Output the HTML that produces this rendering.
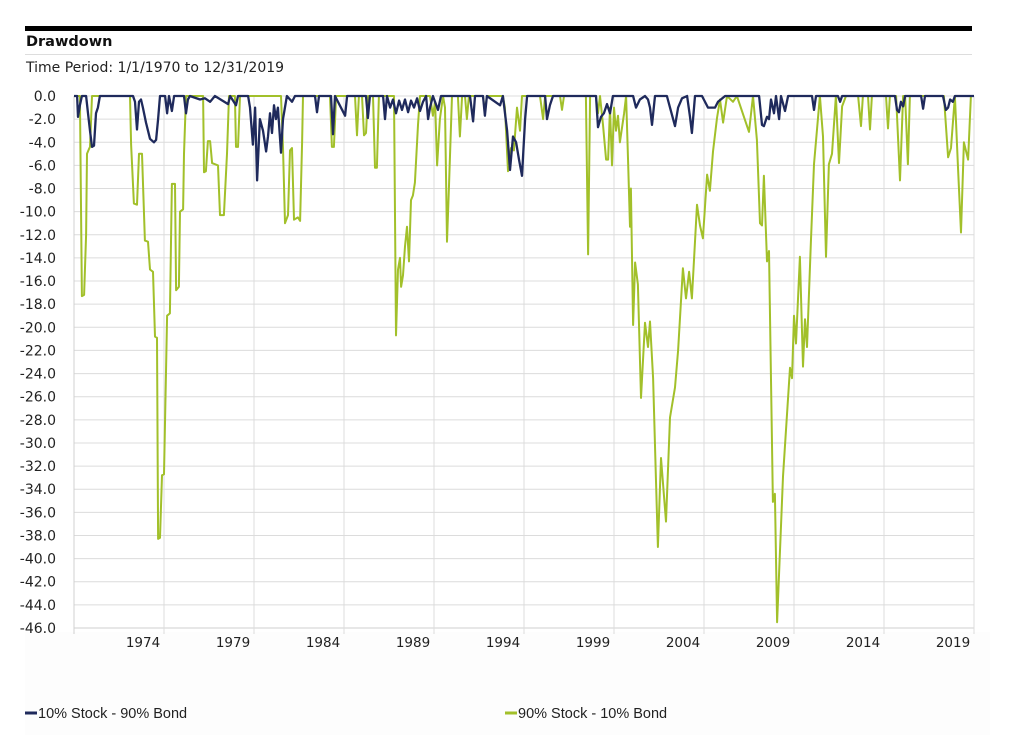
<!DOCTYPE html>
<html><head><meta charset="utf-8">
<style>
body{margin:0;background:#fff;font-family:"DejaVu Sans","Liberation Sans",sans-serif;}
#wrap{position:relative;width:1026px;height:740px;overflow:hidden;background:#fff;}
</style></head>
<body>
<div id="wrap">
<svg id="chart" width="1026" height="740" xmlns="http://www.w3.org/2000/svg">
  <rect x="25" y="632" width="965" height="103" fill="#fdfdfd"/>
  <rect x="25" y="26" width="947" height="5" fill="#000"/>
  <text x="26" y="46" font-size="14.5" font-weight="bold" fill="#111" font-family="DejaVu Sans, sans-serif">Drawdown</text>
  <line x1="25" y1="54.5" x2="972" y2="54.5" stroke="#ddd"/>
  <text x="26" y="72" font-size="14" fill="#222" font-family="DejaVu Sans, sans-serif">Time Period: 1/1/1970 to 12/31/2019</text>
  <g id="grid"></g>
  <g id="yaxis"></g>
  <g id="xaxis"></g>
  <g id="series"></g>
  <g>
    <g>
      <line x1="25" y1="713" x2="37" y2="713" stroke="#1f2a5c" stroke-width="3"/>
      <text x="38" y="718" font-size="14.5" fill="#222" font-family="Liberation Sans, sans-serif">10% Stock - 90% Bond</text>
    </g>
    <g>
      <line x1="505" y1="713" x2="517" y2="713" stroke="#a2c02a" stroke-width="3"/>
      <text x="518" y="718" font-size="14.5" fill="#222" font-family="Liberation Sans, sans-serif">90% Stock - 10% Bond</text>
    </g>
  </g>
</svg>
</div>
<script>
const yTicks = [0,-2,-4,-6,-8,-10,-12,-14,-16,-18,-20,-22,-24,-26,-28,-30,-32,-34,-36,-38,-40,-42,-44,-46];
const xTickYears = [1975,1980,1985,1990,1995,2000,2005,2010,2015,2020];
const xTickLabels = ["1974","1979","1984","1989","1994","1999","2004","2009","2014","2019"];

const greenDates = [1970.00,1970.33,1970.44,1970.56,1970.67,1970.72,1970.83,1970.89,1971.00,1973.11,1973.17,1973.33,1973.50,1973.61,1973.78,1973.94,1974.11,1974.22,1974.39,1974.50,1974.61,1974.67,1974.78,1974.89,1975.00,1975.17,1975.33,1975.44,1975.61,1975.67,1975.83,1975.89,1976.06,1976.11,1976.22,1977.17,1977.22,1977.33,1977.44,1977.56,1977.67,1978.00,1978.11,1978.33,1978.50,1978.61,1978.94,1979.00,1979.11,1979.22,1981.50,1981.61,1981.72,1981.89,1982.00,1982.11,1982.22,1982.44,1982.56,1982.67,1982.72,1984.22,1984.33,1984.44,1984.56,1985.61,1985.72,1985.83,1986.00,1986.11,1986.22,1986.33,1986.61,1986.72,1986.83,1986.94,1987.78,1987.89,1988.00,1988.11,1988.17,1988.28,1988.39,1988.50,1988.61,1988.72,1988.83,1988.94,1989.11,1989.22,1989.78,1989.94,1990.06,1990.17,1990.33,1990.50,1990.61,1990.72,1990.83,1991.00,1991.33,1991.44,1991.56,1991.72,1991.83,1991.94,1992.72,1992.83,1992.94,1993.83,1993.94,1994.11,1994.28,1994.44,1994.61,1994.78,1994.89,1995.89,1996.06,1996.17,1997.00,1997.11,1997.22,1998.44,1998.56,1998.67,1999.00,1999.11,1999.22,1999.39,1999.56,1999.67,1999.78,1999.89,2000.00,2000.11,2000.22,2000.33,2000.56,2000.67,2000.78,2000.89,2000.94,2001.06,2001.17,2001.33,2001.50,2001.72,2001.89,2002.00,2002.17,2002.33,2002.44,2002.61,2002.89,2003.11,2003.39,2003.56,2003.83,2004.00,2004.17,2004.33,2004.61,2004.78,2004.94,2005.17,2005.33,2005.50,2005.72,2005.89,2006.06,2006.28,2006.61,2006.83,2007.50,2007.72,2007.94,2008.11,2008.22,2008.33,2008.50,2008.61,2008.83,2008.94,2009.06,2009.39,2009.78,2009.89,2010.00,2010.11,2010.33,2010.50,2010.61,2010.72,2010.94,2011.11,2011.33,2011.44,2011.61,2011.78,2011.94,2012.11,2012.33,2012.50,2012.67,2012.89,2013.56,2013.72,2013.83,2014.11,2014.22,2014.33,2015.11,2015.22,2015.33,2015.67,2015.89,2016.06,2016.17,2016.33,2016.44,2018.33,2018.56,2018.72,2018.94,2019.11,2019.28,2019.44,2019.67,2019.83,2020.00];
const greenValues = [0,0,-17.3,-17.2,-12,-5,-4.6,-4.4,0,0,-4.2,-9.3,-9.4,-5,-5,-12.5,-12.6,-15,-15.2,-20.8,-20.9,-38.3,-38.2,-32.8,-32.7,-19,-18.8,-7.6,-7.6,-16.8,-16.5,-10,-9.8,-5,0,0,-6.6,-6.5,-3.9,-3.9,-5.8,-6,-10.3,-10.3,-5,0,0,-4.4,-4.4,0,0,-4.5,-11,-10.3,-4.7,-4.5,-10.7,-10.5,-10.8,-4,0,0,-4.4,-4.4,0,0,-3.4,0,0,-3.4,-3.2,0,0,-6.2,-6.2,0,0,-20.7,-15,-14,-16.5,-15.5,-13,-11.3,-14.3,-9,-8.6,-7.5,-2.5,0,0,-1.7,-0.5,-6,-2,0,-1,-12.6,-8,0,0,-3.5,0,0,-2,0,0,-1.5,0,0,-1,-6.5,-4.5,-4.7,-1,-3,0,0,-2,0,0,-1.2,0,0,-13.7,0,0,-1.5,0,-2.5,-5.5,-5.5,-1,-6,-1,-3,-1.7,-4,-1.5,0,-5.4,-11.3,-8,-19.8,-14.4,-16.3,-26.1,-19.6,-21.7,-19.5,-24.4,-33,-39,-31.3,-36.8,-27.8,-25.2,-22,-14.9,-17.5,-15.2,-17.5,-9.4,-11.2,-12.3,-6.8,-8.2,-4.8,-1.9,-0.3,-2.3,0,-0.5,0,-3.1,0,-3.8,-11,-11.2,-6.9,-14.3,-13.4,-35.1,-34.4,-45.5,-32.9,-23.5,-24.4,-19,-21.4,-13.9,-23.4,-19.3,-21.7,-12.6,-5.9,-2,0,-3.5,-13.9,-5.9,-5,0,-5.8,-0.9,0,0,-2.6,0,0,-2.9,0,0,-2.8,0,0,-7.3,0,0,-5.9,0,0,-5.3,-4.5,0,-6.2,-11.8,-4,-5.5,0,0];

const blueDates = [1970.00,1970.17,1970.22,1970.33,1970.44,1970.67,1970.78,1970.89,1971.00,1971.11,1971.22,1971.33,1971.44,1973.28,1973.39,1973.50,1973.61,1973.72,1973.83,1974.00,1974.11,1974.22,1974.44,1974.56,1974.67,1974.78,1975.06,1975.17,1975.28,1975.44,1975.56,1976.11,1976.22,1976.33,1976.44,1977.00,1977.28,1977.56,1977.83,1978.56,1978.67,1979.00,1979.11,1979.67,1979.78,1979.94,1980.06,1980.17,1980.33,1980.50,1980.67,1980.78,1980.89,1981.00,1981.11,1981.22,1981.33,1981.50,1981.61,1981.83,1982.11,1982.28,1983.39,1983.50,1983.61,1984.28,1984.39,1984.50,1985.06,1985.17,1986.22,1986.33,1986.44,1987.17,1987.28,1987.39,1987.56,1987.72,1987.89,1988.06,1988.22,1988.39,1988.56,1988.72,1988.89,1989.06,1989.22,1989.39,1989.56,1989.67,1989.78,1989.94,1990.22,1990.39,1992.00,1992.17,1992.28,1992.72,1992.83,1992.94,1993.67,1993.83,1994.06,1994.22,1994.39,1994.56,1994.72,1994.89,1995.06,1995.17,1996.17,1996.28,1996.44,1996.61,1999.00,1999.11,1999.28,1999.44,1999.61,1999.78,1999.94,2001.06,2001.22,2001.44,2001.72,2001.89,2002.00,2002.11,2002.28,2002.94,2003.11,2003.39,2003.56,2003.78,2004.06,2004.22,2004.33,2004.50,2004.89,2005.22,2005.61,2005.78,2006.17,2008.06,2008.22,2008.33,2008.50,2008.61,2008.72,2008.89,2009.00,2009.17,2009.28,2009.50,2009.67,2011.00,2011.11,2011.22,2012.44,2012.56,2012.67,2015.61,2015.72,2015.83,2015.94,2016.06,2016.17,2017.06,2017.17,2017.28,2018.28,2018.44,2018.56,2018.67,2018.83,2018.94,2020.00];
const blueValues = [0,0,-1.8,-0.8,0,0,-1.5,-3,-4.4,-4.3,-1.5,-1,0,0,-0.5,-2.9,-0.5,-0.3,-1,-2.3,-3,-3.7,-4,-3.8,-2,0,0,-1.5,0,-1.3,0,0,-1.5,-0.3,0,-0.3,-0.2,-0.5,0,-0.7,0,-0.8,0,0,-1,-4.2,-1,-7.3,-2,-3,-4.8,-3.5,-1.5,-3.2,-0.8,-2,-1,-4.9,-2,0,-0.5,0,0,-1.4,0,0,-3.3,0,-1.7,0,0,-1.9,0,0,-2,0,-1,-0.3,-1.5,-0.4,-1.2,-0.3,-1.4,-0.4,-1,-0.2,-1.3,-0.5,0,-2,-1,0,-1.2,0,0,-2.2,0,0,-1.7,0,-0.8,0,-3,-6.4,-3.5,-4,-5.5,-6.9,-2,0,0,-2,-0.8,0,0,-2.7,-1.8,-1.5,-0.7,-1.5,0,0,-1,-0.3,0,-0.3,-1,-2.5,0,0,-1,-2.6,-1,-0.2,0,-1.8,-3.2,0,0,-1,-1,-0.5,0,0,-2.5,-2.6,-1.8,-2,-0.3,-1.5,0,-2,0,-1.3,0,0,-1.2,0,0,-0.5,0,0,-1.2,-1.4,-0.5,-0.9,0,0,-1.1,0,0,-1.2,-1,-0.3,-0.5,0,0];

const X0 = 74, X1 = 974, Y0 = 96, Y1 = 628;
const xMin = 1970, xMax = 2020, yMax = 0, yMin = -46;
function xScale(t){ return X0 + (t - xMin) / (xMax - xMin) * (X1 - X0); }
function yScale(v){ return Y0 + (yMax - v) / (yMax - yMin) * (Y1 - Y0); }
const NS = "http://www.w3.org/2000/svg";
const grid = document.getElementById('grid');
const yaxis = document.getElementById('yaxis');
const xaxis = document.getElementById('xaxis');
const series = document.getElementById('series');

yTicks.forEach(v => {
  const y = yScale(v);
  const ln = document.createElementNS(NS, 'line');
  
  
  ln.setAttribute('x1', X0); ln.setAttribute('x2', X1);
  ln.setAttribute('y1', y); ln.setAttribute('y2', y);
  ln.setAttribute('stroke', v === yMin ? '#cfcfcf' : '#dcdcdc'); ln.setAttribute('stroke-width', '1');
  grid.appendChild(ln);
  const tx = document.createElementNS(NS, 'text');
  
  
  tx.setAttribute('x', 56); tx.setAttribute('y', y + 5);
  tx.setAttribute('text-anchor', 'end'); tx.setAttribute('font-size', '14');
  tx.setAttribute('fill', '#222'); tx.setAttribute('font-family', 'DejaVu Sans, sans-serif');
  tx.textContent = v.toFixed(1);
  yaxis.appendChild(tx);
});
const la = document.createElementNS(NS, 'line');


la.setAttribute('x1', X0); la.setAttribute('x2', X0); la.setAttribute('y1', Y0); la.setAttribute('y2', Y1 + 6);
la.setAttribute('stroke', '#d0d0d0');
grid.appendChild(la);
xTickYears.forEach((yr, i) => {
  const x = xScale(yr);
  const ln = document.createElementNS(NS, 'line');
  
  
  ln.setAttribute('x1', x); ln.setAttribute('x2', x);
  ln.setAttribute('y1', Y0); ln.setAttribute('y2', Y1 + 6);
  ln.setAttribute('stroke', '#dcdcdc');
  grid.appendChild(ln);
  const tx = document.createElementNS(NS, 'text');
  
  
  tx.setAttribute('x', x - 21); tx.setAttribute('y', 647);
  tx.setAttribute('text-anchor', 'middle'); tx.setAttribute('font-size', '13.5');
  tx.setAttribute('fill', '#222'); tx.setAttribute('font-family', 'DejaVu Sans, sans-serif');
  tx.textContent = xTickLabels[i];
  xaxis.appendChild(tx);
});
function drawLine(dates, values, color, name, w){
  const p = document.createElementNS(NS, 'path');
  
  
  let d = '';
  dates.forEach((t, i) => { d += (i ? 'L' : 'M') + xScale(t).toFixed(1) + ' ' + yScale(values[i]).toFixed(1); });
  p.setAttribute('d', d);
  p.setAttribute('fill', 'none'); p.setAttribute('stroke', color);
  p.setAttribute('stroke-width', w); p.setAttribute('stroke-linejoin', 'round');
  series.appendChild(p);
}
drawLine(greenDates, greenValues, '#a2c02a', 'line-90-stock-10-bond', '2');
drawLine(blueDates, blueValues, '#1f2a5c', 'line-10-stock-90-bond', '2.3');
</script>
</body></html>
